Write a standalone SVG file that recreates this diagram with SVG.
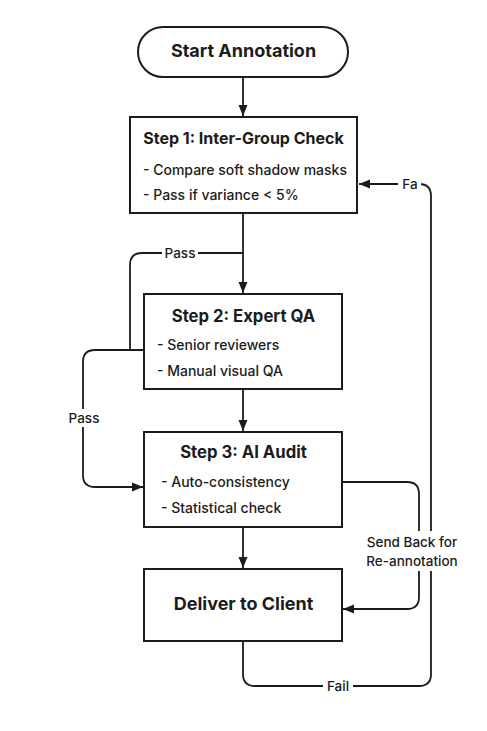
<svg xmlns="http://www.w3.org/2000/svg" width="487" height="731" viewBox="0 0 487 731">
<defs>
<marker id="arr" markerUnits="userSpaceOnUse" markerWidth="12" markerHeight="12" viewBox="0 0 12 12" refX="11" refY="6" orient="auto">
<path d="M0,1.5 L11,6 L0,10.5 Z" fill="#1c1c1c"/>
</marker>
<style>
.box{fill:#fff;stroke:#1c1c1c;stroke-width:2}
.edge{fill:none;stroke:#1c1c1c;stroke-width:1.8}
.title{font-family:Inter,"Liberation Sans",sans-serif;font-weight:700;font-size:16.7px;fill:#1c1c1c;text-anchor:middle}
.t1{font-size:16px}
.big{font-size:18px}
.body{font-family:Inter,"Liberation Sans",sans-serif;font-weight:500;font-size:14px;fill:#1c1c1c}
.lbl{font-family:Inter,"Liberation Sans",sans-serif;font-weight:500;font-size:13.5px;fill:#1c1c1c;text-anchor:middle}
.bg{fill:#fff}
</style>
</defs>
<rect width="487" height="731" fill="#fff"/>
<g id="connectors">
<path class="edge" d="M243 77 V116" marker-end="url(#arr)"/>
<path class="edge" d="M243 213 V293" marker-end="url(#arr)"/>
<path class="edge" d="M243 253 H142 Q130 253 130 265 V350"/>
<path class="edge" d="M145 350 H95 Q83 350 83 362 V475 Q83 487 95 487 H143" marker-end="url(#arr)"/>
<path class="edge" d="M243 389 V431" marker-end="url(#arr)"/>
<path class="edge" d="M243 527 V568" marker-end="url(#arr)"/>
<path class="edge" d="M342 482 H407 Q419 482 419 494 V597 Q419 609 407 609 H343" marker-end="url(#arr)"/>
<path class="edge" d="M243 641 V674 Q243 686 255 686 H419 Q431 686 431 674 V196 Q431 184 419 184 H359" marker-end="url(#arr)"/>
<rect class="bg" x="162" y="244" width="36" height="18"/>
<text class="lbl" x="180" y="258">Pass</text>
<rect class="bg" x="67" y="409" width="34" height="18"/>
<text class="lbl" x="84" y="423">Pass</text>
<rect class="bg" x="360" y="531" width="104" height="40"/>
<text class="lbl" x="412" y="547">Send Back for</text>
<text class="lbl" x="412" y="566">Re-annotation</text>
<rect class="bg" x="323" y="677" width="30" height="18"/>
<text class="lbl" x="338" y="691">Fail</text>
<rect class="bg" x="398" y="175" width="23" height="18"/>
<text class="lbl" x="410" y="189">Fa</text>
</g>
<g id="start">
<rect class="box" x="138" y="27" width="210" height="50" rx="25"/>
<text class="title big" x="243.5" y="57">Start Annotation</text>
</g>
<g id="step1">
<rect class="box" x="130" y="117" width="227" height="96"/>
<text class="title t1" x="243.5" y="144">Step 1: Inter-Group Check</text>
<text class="body" x="143" y="175">- Compare soft shadow masks</text>
<text class="body" x="143" y="200">- Pass if variance &lt; 5%</text>
</g>
<g id="step2">
<rect class="box" x="144" y="294" width="198" height="95"/>
<text class="title" x="243.5" y="322">Step 2: Expert QA</text>
<text class="body" x="157" y="350">- Senior reviewers</text>
<text class="body" x="157" y="376">- Manual visual QA</text>
</g>
<g id="step3">
<rect class="box" x="144" y="432" width="198" height="95"/>
<text class="title" x="243.5" y="458">Step 3: AI Audit</text>
<text class="body" x="161" y="487">- Auto-consistency</text>
<text class="body" x="161" y="513">- Statistical check</text>
</g>
<g id="deliver">
<rect class="box" x="144" y="569" width="198" height="72"/>
<text class="title big" x="243.5" y="610">Deliver to Client</text>
</g>
</svg>
